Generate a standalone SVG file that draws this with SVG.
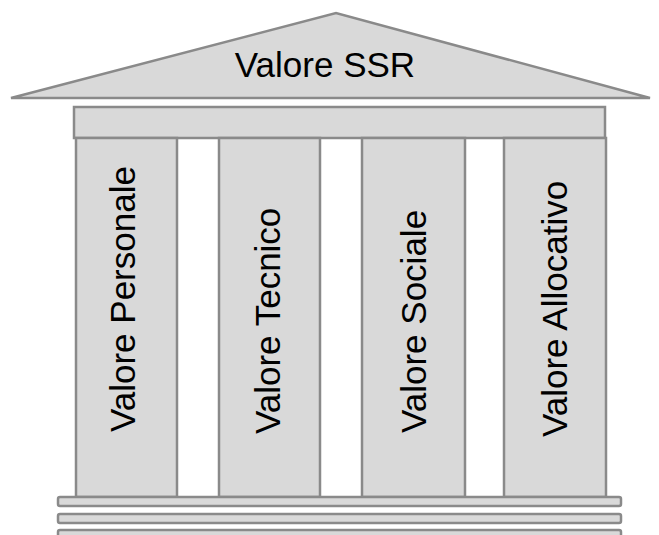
<svg xmlns="http://www.w3.org/2000/svg" width="659" height="535" viewBox="0 0 659 535">
<style>
.s{fill:#d9d9d9;stroke:#8a8a8a;stroke-width:2.5}
.t{font-family:"Liberation Sans",Arial,sans-serif;font-size:35px;fill:#000}
</style>
<rect width="659" height="535" fill="#fff"/>
<g id="roof">
<polygon class="s" points="11,98 336,13 650,98"/>
<text class="t" x="325" y="77" text-anchor="middle">Valore SSR</text>
</g>
<g id="entablature">
<rect class="s" x="74" y="107" width="531" height="31"/>
</g>
<g id="col1">
<rect class="s" x="76" y="138" width="101" height="359"/>
<text class="t" transform="translate(135,432) rotate(-90)">Valore Personale</text>
</g>
<g id="col2">
<rect class="s" x="219" y="138" width="101" height="359"/>
<text class="t" transform="translate(280,434) rotate(-90)">Valore Tecnico</text>
</g>
<g id="col3">
<rect class="s" x="362" y="138" width="103" height="359"/>
<text class="t" transform="translate(426,433) rotate(-90)">Valore Sociale</text>
</g>
<g id="col4">
<rect class="s" x="504" y="138" width="102" height="359"/>
<text class="t" transform="translate(567,437) rotate(-90)">Valore Allocativo</text>
</g>
<g id="steps">
<rect class="s" x="58" y="497" width="563" height="9" rx="2"/>
<rect class="s" x="58" y="514" width="563" height="9" rx="2"/>
<rect class="s" x="58" y="530" width="563" height="9" rx="2"/>
</g>
<g id="connectors"></g>
</svg>
